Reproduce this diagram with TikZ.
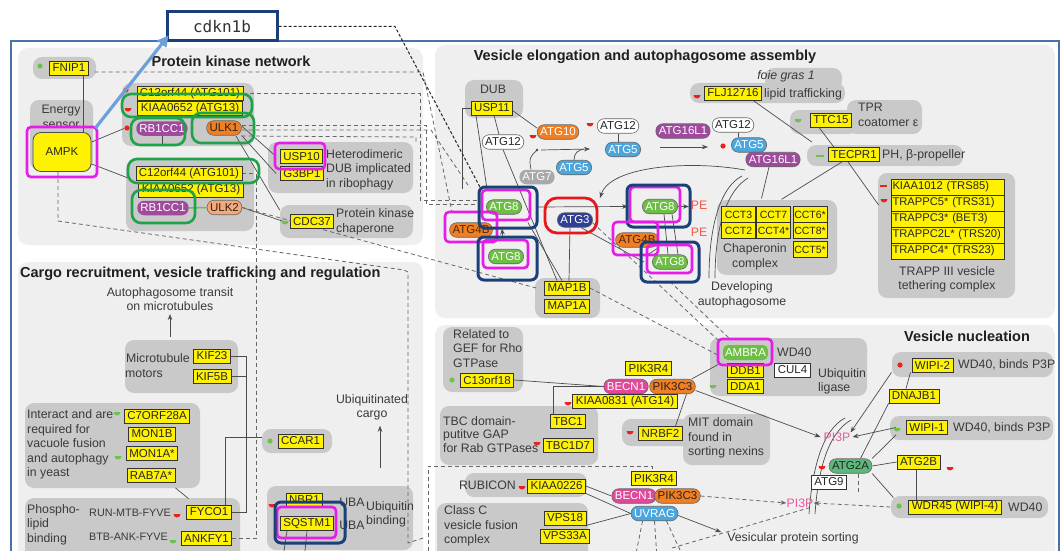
\documentclass[tikz,border=0pt]{standalone}
\usepackage{fontspec}
\setmainfont{Liberation Sans}
\newfontfamily\monof{DejaVu Sans Mono}
\usetikzlibrary{arrows.meta}
\pgfdeclarelayer{bgl}
\pgfdeclarelayer{lnl}
\pgfsetlayers{bgl,lnl,main}
\definecolor{ylw}{HTML}{FFF200}
\definecolor{blobg}{HTML}{C9C9C9}
\definecolor{panelg}{HTML}{EFEFF0}
\definecolor{frameb}{HTML}{4A72A8}
\definecolor{navy}{HTML}{1B3F78}
\definecolor{magh}{HTML}{E81CE8}
\definecolor{greenh}{HTML}{1FA34A}
\definecolor{redh}{HTML}{E8161B}
\definecolor{gr8}{HTML}{6DBE45}
\definecolor{orng}{HTML}{F07E22}
\definecolor{ltorng}{HTML}{F6A878}
\definecolor{purp}{HTML}{A04A9E}
\definecolor{bl5}{HTML}{4BA6DE}
\definecolor{atg3c}{HTML}{2F3F94}
\definecolor{pinkb}{HTML}{E0489A}
\definecolor{gray7}{HTML}{A9A9A9}
\definecolor{atg2}{HTML}{5DB87B}
\definecolor{pipink}{HTML}{E85A9B}
\definecolor{pered}{HTML}{F05A4A}
\definecolor{txt}{HTML}{3A3A3A}
\definecolor{arrowblue}{HTML}{6E9FDB}
\definecolor{markred}{HTML}{E8231C}
\definecolor{markgreen}{HTML}{6CC24A}
\definecolor{brn}{HTML}{4A2A10}
\newcommand\mkR[2]{\fill[markred] (#1,#2) circle (2.6);}
\newcommand\mkG[2]{\fill[markgreen] (#1,#2) circle (2.6);}
\newcommand\mkH[3]{\fill[#3] ({#1-3.5},#2) arc[start angle=180,end angle=0,radius=3.5] -- cycle;}
\tikzset{
 lab/.style={font=\fontsize{11.5}{12.5}\selectfont, text=black!85},
 yb/.style={lab, draw=black!80, fill=ylw, line width=0.8pt, inner xsep=3pt, inner ysep=0pt, minimum height=14pt},
 cct/.style={yb, font=\fontsize{10.5}{11}\selectfont, minimum width=34pt, minimum height=15.5pt, inner xsep=0.5pt},
 trp/.style={yb, font=\fontsize{11.2}{12}\selectfont, text width=110pt, align=left, inner xsep=1.5pt, minimum height=16pt},
 wb/.style={yb, fill=white},
 pill/.style={lab, draw=black!60, line width=0.6pt, rounded corners=7pt, inner xsep=3pt, inner ysep=0pt, minimum height=14.5pt},
 ampkb/.style={lab, draw=black!70, fill=ylw, line width=0.8pt, rounded corners=8pt, minimum width=58pt, minimum height=39pt},
 blob/.style={fill=blobg, rounded corners=9pt},
 body/.style={font=\fontsize{12.3}{14.6}\selectfont, text=txt, inner sep=0pt},
 nbody/.style={body, font=\fontsize{10.8}{12}\selectfont},
 ttl/.style={font=\bfseries\fontsize{14.5}{16}\selectfont, text=black!88, inner sep=0pt},
 pitxt/.style={body, text=pipink},
 petxt/.style={body, text=pered},
 hlm/.style={draw=magh, line width=2.6pt, rounded corners=4pt},
 hln/.style={draw=navy, line width=3pt, rounded corners=6pt},
 hlg/.style={draw=greenh, line width=2.6pt, rounded corners=9pt},
 hlr/.style={draw=redh, line width=2.8pt, rounded corners=12pt},
 ln/.style={draw=black!70, line width=0.7pt},
 dl/.style={draw=black!60, line width=0.8pt, dash pattern=on 4pt off 3pt},
 arr/.style={ln, -{Stealth[length=6pt,width=4.5pt]}},
 darr/.style={dl, -{Stealth[length=6pt,width=4.5pt]}},
}
\begin{document}
\begin{tikzpicture}[x=1pt,y=-1pt]
\useasboundingbox (0,0) rectangle (1063,551);
\begin{pgfonlayer}{bgl}
\fill[white] (0,0) rectangle (1063,551);
\fill[panelg, rounded corners=10pt] (18,48) rectangle (423,245);
\fill[panelg, rounded corners=10pt] (435,45) rectangle (1055,318);
\fill[panelg, rounded corners=10pt] (18,262) rectangle (423,575);
\fill[panelg, rounded corners=10pt] (435,325) rectangle (1055,575);
\draw[frameb, line width=1.3pt] (11,41) rectangle (1059,575);
% blobs protein kinase
\fill[blob] (33,57) rectangle (96,79);
\fill[blob] (30,100) rectangle (93,170);
\fill[blob] (122,83) rectangle (254,146);
\fill[blob] (126,160) rectangle (254,231);
\fill[blob] (268,142) rectangle (413,193);
\fill[blob] (280,205) rectangle (413,238);
% blobs elongation
\fill[blob] (465,80) rectangle (523,118);
\fill[blob] (765,68) rectangle (842,90);
\fill[blob] (690,83) rectangle (845,103);
\fill[blob] (790,110) rectangle (858,134);
\fill[blob] (847,100) rectangle (922,134);
\fill[blob] (807,145) rectangle (963,166);
\fill[blob] (535,278) rectangle (600,318);
\fill[blob] (717,200) rectangle (837,275);
\fill[blob] (878,173) rectangle (1015,298);
% blobs cargo
\fill[blob] (125,340) rectangle (238,393);
\fill[blob] (25,403) rectangle (200,488);
\fill[blob] (25,498) rectangle (240,570);
\fill[blob] (262,429) rectangle (332,453);
\fill[blob] (267,486) rectangle (413,550);
% blobs nucleation
\fill[blob] (443,327) rectangle (523,392);
\fill[blob] (440,406) rectangle (598,465);
\fill[blob] (622,419) rectangle (700,446);
\fill[blob] (683,414) rectangle (770,465);
\fill[blob] (710,338) rectangle (867,396);
\fill[blob] (892,352) rectangle (1053,377);
\fill[blob] (890,416) rectangle (1053,440);
\fill[blob] (891,496) rectangle (1048,518);
\fill[blob] (465,473) rectangle (587,497);
\fill[blob] (437,503) rectangle (588,565);
\end{pgfonlayer}

% ---------- Protein kinase network ----------
\node[ttl] (tpk) at (231,61) {Protein kinase network};
\node[body] (energy) at (61,111) {Energy};
\node[body] (sensor) at (61,125) {sensor};
\node[yb] (fnip1) at (69,68) {FNIP1};
\node[ampkb] (ampk) at (62,152) {AMPK};
\node[yb, minimum width=105pt] (c12a) at (190,93.5) {C12orf44 (ATG101)};
\node[yb, minimum width=105pt] (kiaaa) at (190,108.5) {KIAA0652 (ATG13)};
\node[pill, fill=purp, text=white, draw=none] (rb1cc) at (162,128.5) {RB1CC1};
\node[pill, fill=orng] (ulk1) at (224,128) {ULK1};
\node[yb] (c12b) at (189,173.5) {C12orf44 (ATG101)};
\node[yb] (kiaab) at (191,190) {KIAA0652 (ATG13)};
\node[pill, fill=purp, text=white, draw=none] (rb1cc1) at (163,208) {RB1CC1};
\node[pill, fill=ltorng] (ulk2) at (224.5,207.5) {ULK2};
\node[yb] (usp10) at (301.5,156.5) {USP10};
\node[yb] (g3bp1) at (302,173.5) {G3BP1};
\node[body, anchor=west, align=left] (hetero) at (326,169.5) {Heterodimeric\\DUB implicated\\in ribophagy};
\node[yb] (cdc37) at (312,221.5) {CDC37};
\node[body, anchor=west, align=left] (pkc) at (336,222) {Protein kinase\\chaperone};
\mkG{40}{66}
\mkR{126}{90}
\mkH{128}{108}{markred}
\mkR{127}{128}
\mkH{285}{221}{markgreen}

% ---------- Vesicle elongation ----------
\node[ttl] (tel) at (645,57) {Vesicle elongation and autophagosome assembly};
\node[body] (dub) at (493,89) {DUB};
\node[yb] (usp11) at (492,108) {USP11};
\node[pill, fill=white] (atg12a) at (503,142) {ATG12};
\node[pill, fill=orng, text=white] (atg10) at (558,132) {ATG10};
\node[pill, fill=white] (atg12b) at (618,126) {ATG12};
\node[pill, fill=bl5, text=white] (atg5a) at (623,149.5) {ATG5};
\node[pill, fill=bl5, text=white] (atg5b) at (574,167.5) {ATG5};
\node[pill, fill=gray7, text=white, draw=none] (atg7) at (537,177) {ATG7};
\node[pill, fill=purp, text=white] (atg16a) at (683,131) {ATG16L1};
\node[pill, fill=white] (atg12c) at (733,125) {ATG12};
\node[pill, fill=bl5, text=white] (atg5c) at (749,145) {ATG5};
\node[pill, fill=purp, text=white] (atg16b) at (773,159.5) {ATG16L1};
\mkH{533}{135}{markred}
\mkH{590}{123}{markred}
\mkR{723}{146}
\node[body, font=\fontsize{12.3}{14.6}\selectfont\itshape] (foie) at (786,76) {foie gras 1};
\node[yb] (flj) at (733,93) {FLJ12716};
\node[body, anchor=west] (lipid) at (764,94) {lipid trafficking};
\mkH{697}{95}{markred}
\node[yb] (ttc15) at (831,120) {TTC15};
\node[body, anchor=west, align=left] (tpr) at (858,115) {TPR\\coatomer ε};
\mkH{798}{119}{markgreen}
\node[yb] (tecpr1) at (854,154.5) {TECPR1};
\node[body, anchor=west] (ph) at (882,155) {PH, β-propeller};
\draw[markgreen, line width=2pt] (816,156) -- (824,156);

\node[pill, fill=orng, text=brn] (atg4bl) at (471,230) {ATG4B};
\node[pill, fill=gr8, text=white] (atg8a) at (504,207) {ATG8};
\node[pill, fill=gr8, text=white] (atg8b) at (506,256.5) {ATG8};
\node[pill, fill=atg3c, text=white] (atg3) at (575,220) {ATG3};
\node[pill, fill=gr8, text=white] (atg8c) at (660,206.5) {ATG8};
\node[pill, fill=orng, text=brn] (atg4br) at (637,240) {ATG4B};
\node[pill, fill=gr8, text=white] (atg8d) at (670,262) {ATG8};
\node[petxt] (pe1) at (699,205) {PE};
\node[petxt] (pe2) at (699,232) {PE};
\node[body, align=center] (devel) at (742,295) {Developing\\autophagosome};
\node[yb] (map1b) at (567,288) {MAP1B};
\node[yb] (map1a) at (567,306) {MAP1A};

\node[cct] (cct3) at (738.5,214.5) {CCT3};
\node[cct] (cct7) at (773.5,214.5) {CCT7};
\node[cct] (cct6) at (810,214.5) {CCT6*};
\node[cct] (cct2) at (738.5,230.5) {CCT2};
\node[cct] (cct4) at (773.5,230.5) {CCT4*};
\node[cct] (cct8) at (810,230.5) {CCT8*};
\node[cct] (cct5) at (810,249.5) {CCT5*};
\node[body, align=center] (chap) at (755,257) {Chaperonin\\complex};

\node[trp] (trs85) at (947.5,187) {KIAA1012 (TRS85)};
\node[trp] (trs31) at (947.5,203) {TRAPPC5* (TRS31)};
\node[trp] (bet3) at (947.5,219) {TRAPPC3* (BET3)};
\node[trp] (trs20) at (947.5,235) {TRAPPC2L* (TRS20)};
\node[trp] (trs23) at (947.5,251) {TRAPPC4* (TRS23)};
\node[body, align=center] (trapp) at (947,279.5) {TRAPP III vesicle\\tethering complex};
\draw[markred, line width=2pt] (880,186) -- (887,186);
\mkH{884}{199}{markred}

% ---------- Cargo ----------
\node[ttl, anchor=west] (tcg) at (20,274) {Cargo recruitment, vesicle trafficking and regulation};
\node[body, align=center] (transit) at (170,299) {Autophagosome transit\\on microtubules};
\coordinate (tra) at (170,337);
\node[body, anchor=east] (mtub) at (190,358) {Microtubule};
\node[body, anchor=west] (motors) at (125,374) {motors};
\node[yb] (kif23) at (212,356) {KIF23};
\node[yb] (kif5b) at (212,376.5) {KIF5B};
\node[body, anchor=west, align=left] (interact) at (27,444.5) {Interact and are\\required for\\vacuole fusion\\and autophagy\\in yeast};
\node[yb] (c7orf) at (157,416) {C7ORF28A};
\node[yb] (mon1b) at (152,434) {MON1B};
\node[yb] (mon1a) at (152,453.5) {MON1A*};
\node[yb] (rab7a) at (151,475.5) {RAB7A*};
\mkH{117}{412}{markgreen}
\mkH{118}{456}{markgreen}
\node[body, anchor=west, align=left] (phospho) at (27,524.5) {Phospho-\\lipid\\binding};
\node[nbody, anchor=east] (runm) at (171,513) {RUN-MTB-FYVE};
\node[yb] (fyco1) at (209,512) {FYCO1};
\node[nbody, anchor=east] (btb) at (168,537) {BTB-ANK-FYVE};
\node[yb] (ankfy1) at (206.5,538.5) {ANKFY1};
\mkH{177}{514}{markred}
\mkH{173}{540}{markgreen}
\node[yb] (ccar1) at (300.5,441) {CCAR1};
\mkG{270}{441}
\node[body, align=center] (ubc) at (372,407.5) {Ubiquitinated\\cargo};
\coordinate (ubs) at (380,468);
\node[yb] (nbr1) at (304.5,500) {NBR1};
\node[yb] (sqstm1) at (307,523.5) {SQSTM1};
\node[body] (uba1) at (352,502) {UBA};
\node[body] (uba2) at (352,525) {UBA};
\node[body, anchor=west] (ubq1) at (366,507) {Ubiquitin};
\node[body, anchor=west] (ubq2) at (366,521) {binding};
\mkH{272}{504}{markred}

% ---------- Vesicle nucleation ----------
\node[ttl] (tvn) at (967,336) {Vesicle nucleation};
\node[body, anchor=west, align=left] (relt) at (453,348.5) {Related to\\GEF for Rho\\GTPase};
\node[yb] (c13) at (487,380) {C13orf18};
\mkG{452}{380}
\node[yb] (pik3r4a) at (648.5,368.5) {PIK3R4};
\node[pill, fill=pinkb, text=white] (becn1a) at (626,386.5) {BECN1};
\node[pill, fill=orng] (pik3c3a) at (672.5,386.5) {PIK3C3};
\node[yb] (kiaa0831) at (625,401.5) {KIAA0831 (ATG14)};
\mkH{568}{402}{markred}
\node[body, anchor=west, align=left, font=\fontsize{12.3}{13.8}\selectfont] (tbct) at (443,434.5) {TBC domain-\\putitve GAP\\for Rab GTPases};
\node[yb] (tbc1) at (568,421.5) {TBC1};
\node[yb] (tbc1d7) at (568,445.5) {TBC1D7};
\mkH{537}{442}{markred}
\node[yb] (nrbf2) at (660.5,433.5) {NRBF2};
\mkH{630}{431}{markred}
\node[body, anchor=west, align=left] (mit) at (688,438) {MIT domain\\found in\\sorting nexins};
\node[yb] (ddb1) at (745.5,370.5) {DDB1};
\node[wb] (cul4) at (792.5,370) {CUL4};
\node[yb] (dda1) at (745.5,386.5) {DDA1};
\mkH{713}{385}{markgreen}
\node[lab, fill=gr8, text=white, rounded corners=5pt, minimum width=45pt, minimum height=15pt, inner sep=0pt] (ambra) at (745.5,352.5) {AMBRA};
\node[body, anchor=west] (wd40a) at (777,352) {WD40};
\node[body, anchor=west, align=left] (ubl) at (818,381.5) {Ubiquitin\\ligase};
\node[yb] (wipi2) at (932.5,365) {WIPI-2};
\mkR{900}{365}
\node[body, anchor=west] (wd40b) at (958,365) {WD40, binds P3P};
\node[yb] (dnajb1) at (914,396) {DNAJB1};
\node[yb] (wipi1) at (927,427.5) {WIPI-1};
\mkH{897}{428}{markgreen}
\node[body, anchor=west] (wd40c) at (953,428) {WD40, binds P3P};
\node[pitxt] (pi3pa) at (837,437) {PI3P};
\node[pitxt] (pi3pb) at (800,503) {PI3P};
\node[pill, fill=atg2] (atg2a) at (850.5,466) {ATG2A};
\mkH{822}{466}{markred}
\node[yb] (atg2b) at (918.5,462) {ATG2B};
\mkH{950}{467}{markred}
\node[wb] (atg9) at (829,482) {ATG9};
\node[yb] (wdr45) at (955,507) {WDR45 (WIPI-4)};
\mkG{899}{506}
\node[body, anchor=west] (wd40d) at (1008,507) {WD40};
\node[body, anchor=east] (rubicon) at (516,485) {RUBICON};
\mkH{522}{486}{markred}
\node[yb] (kiaa0226) at (556.5,486) {KIAA0226};
\node[body, anchor=west, align=left] (classc) at (444,526) {Class C\\vesicle fusion\\complex};
\node[yb] (vps18) at (565,518) {VPS18};
\node[yb] (vps33a) at (565,536) {VPS33A};
\node[yb] (pik3r4b) at (654,478.5) {PIK3R4};
\node[pill, fill=pinkb, text=white] (becn1b) at (634,496) {BECN1};
\node[pill, fill=orng] (pik3c3b) at (677.5,496) {PIK3C3};
\node[pill, fill=bl5, text=white] (uvrag) at (654.5,513.5) {UVRAG};
\node[body] (vpstext) at (793,538) {Vesicular protein sorting};

% ---------- connectors ----------
\begin{pgfonlayer}{lnl}
\coordinate (f1) at ([xshift=14pt]fnip1.south);
\draw[ln] (f1) -- (f1 |- ampk.north);
\draw[ln] ([yshift=-10pt]ampk.north east) -- ([xshift=-12pt]rb1cc.west);
\draw[ln] ([yshift=8pt]ampk.south east) -- ([xshift=-5pt,yshift=2pt]c12b.south west);
\draw[ln] (rb1cc.south) -- ++(0,8);
\draw[ln] ([yshift=2pt]ulk1.east) -- ([xshift=-6pt,yshift=2pt]usp10.west);
\draw[ln] (ulk1.south east) -- ([xshift=-4pt]g3bp1.west);
\draw[ln] ([xshift=-6pt]ulk1.south east) -- ([xshift=-10pt,yshift=4pt]cdc37.north west);
\draw[ln] (ulk2.east) -- ([xshift=-6pt]cdc37.west);
\draw[markgreen, line width=1.5pt] (rb1cc1.east) -- (ulk2.west);
% dashed PK -> elongation
\draw[dl] ([xshift=6pt,yshift=-4pt]fnip1.east) -- (423,72) -- (452,212);
\draw[dl] (c12a.east) -- (420,93.5) -- (420,200) -- (479,200);
\draw[dl] ([yshift=3pt]ulk1.east) -- (426,125) -- (426,204) -- (479,204);
\draw[dl] ([yshift=-2pt]ulk1.east) -- (431,130) -- (470,188);
\draw[dl] ([yshift=-8pt]ulk1.east) -- (416,137) -- (416,143);
\draw[dl] (c12b.east) -| ([xshift=24pt]ankfy1.east) -- (ankfy1.east);
\draw[dl] ([xshift=-4pt]ampk.south) -- (58,221) -- (404,270) -- (408,272) -- (408,543) -- (426,537);
\draw[dl] (ulk2.east) -- ([xshift=-8pt]map1b.west);
% elongation
\draw[ln] (usp11.west) -| (462,189);
\draw[ln] ([xshift=-16pt]usp11.south) -- (487,189);
\draw[ln] ([xshift=2pt]usp11.south) -- ([xshift=-4pt]atg12a.north);
\draw[ln] ([yshift=-3pt]usp11.east) -- ([yshift=4pt]atg10.west);
\draw[ln] (atg12a.south) -- ([xshift=-10pt]map1b.north);
\draw[ln] ([xshift=6pt,yshift=-8pt]atg8a.south east) -- ([xshift=-5pt]map1b.north);
\draw[ln] ([xshift=-5pt]atg3.south) -- ([xshift=2pt]map1b.north);
\draw[ln] ([xshift=6pt]atg3.south) -- ([xshift=-8pt]atg8d.west);
\draw[ln] ([xshift=4pt]atg8c.south) -- ([xshift=-2pt]atg8d.north);
\draw[ln] ([xshift=12pt]atg8c.south) -- ([xshift=8pt]atg8d.north);
\draw[ln] (atg4br.south east) -- ([xshift=-4pt]atg8d.north west);
\draw[arr] ([xshift=-3pt,yshift=9pt]atg8b.north) -- ([xshift=-2pt,yshift=-14pt]atg8a.south);
\draw[arr] ([xshift=14pt]atg8a.east) -- ([xshift=-14pt]atg8c.west);
\draw[arr] (atg8c.east) -- ++(11,0);
\coordinate (dot7) at (537,150);
\fill[black!70] (dot7) circle (1.4);
\draw[ln] ([xshift=-6pt]atg7.north) .. controls (529,158) .. (dot7);
\coordinate (a5tip) at (590,149);
\draw[arr] ([xshift=4pt]dot7) -- (a5tip);
\draw[ln] (atg5b.north) .. controls (574,153) and (578,150) .. (584,149);
\draw[ln] (atg12b.south) -- (atg12b.south |- atg5a.north);
\coordinate (a16s) at (660,147);
\coordinate (a16e) at (708,147);
\draw[arr] (a16s) -- (a16e);
\coordinate (a12c) at ([xshift=5pt]atg12c.south);
\draw[ln] (a12c) -- (a12c |- atg5c.north);
\coordinate (cvs) at (745,170);
\coordinate (cve) at (600,198);
\draw[arr] (cvs) .. controls (690,160) and (610,166) .. (cve);
\draw[ln] (742,176) .. controls (722,186) and (709,222) .. (709,278);
\draw[ln] (748,178) .. controls (728,190) and (715,224) .. (715,278);
\draw[ln] ([xshift=-4pt]atg16b.south) -- ([xshift=-12pt,yshift=8pt]cct7.north);
\draw[ln] ([xshift=-12pt]tecpr1.south) -- ([xshift=8pt,yshift=7pt]cct7.north);
\draw[ln] ([xshift=-6pt]tecpr1.south) -- ([xshift=-12pt,yshift=-18pt]trs85.west);
\draw[ln] ([xshift=20pt]flj.south) -- ([xshift=-16pt,yshift=5pt]tecpr1.north west);
\draw[ln] ([xshift=-12pt]ttc15.south) -- ([xshift=6pt]tecpr1.north west);
% dashed to AMBRA
\draw[dl] ([yshift=-3pt]atg3.east) -- ([xshift=-4pt,yshift=4pt]ambra.north west);
\draw[dl] (map1b.east) -- ([xshift=-6pt,yshift=-2pt]ambra.west);
\draw[dl] ([yshift=-12pt]atg8d.south) -- ([xshift=8pt,yshift=5pt]ambra.north west);
% cargo
\draw[arr] (tra) -- ([yshift=-3pt]transit.south);
\draw[ln] (kif23.east) -- ++(16,0) |- (fyco1.east);
\draw[ln] (kif5b.east) -- ++(16,0);
\draw[ln] ([yshift=-5pt]rab7a.south east) -- ([xshift=2pt,yshift=6pt]fyco1.north west);
\coordinate (fy) at ([xshift=16pt]fyco1.north);
\draw[ln] (fy) |- ([xshift=-16pt,yshift=4pt]ccar1.west);
\draw[arr] (ubs) -- ([xshift=8pt,yshift=-5pt]ubc.south);
\draw[ln] ([xshift=-20pt]sqstm1.south) -- ++(-3,20);
\draw[ln] (sqstm1.south) -- ++(-2,20);
% nucleation
\draw[ln] (c13.east) -- (becn1a.west);
\coordinate (tb) at ([xshift=-15pt]tbc1.north);
\draw[ln] (tb) |- (becn1a.west);
\draw[ln] ([xshift=15pt]nrbf2.north) -- ([xshift=14pt]pik3c3a.south);
\draw[ln] ([xshift=-4pt]pik3c3a.north east) -- ([xshift=-4pt,yshift=-4pt]ambra.south west);
\draw[arr] ([yshift=-4pt]pik3c3a.east) -- ([xshift=-3pt]pi3pa.west);
\draw[arr] ([xshift=-20pt]wipi2.south west) -- (pi3pa.north east);
\draw[arr] ([xshift=-10pt]wipi1.west) -- ([xshift=2pt]pi3pa.east);
\draw[ln] ([xshift=-22pt]wipi2.south) -- ([xshift=-8pt]dnajb1.north);
\draw[ln] (dnajb1.south west) -- ([xshift=10pt]atg2a.north);
\draw[ln] ([xshift=-10pt]wipi1.south west) -- (atg2a.north east);
\draw[ln] (atg2a.east) -- (atg2b.west);
\draw[ln] ([xshift=-2pt]atg2b.south) -- ([xshift=-2pt]atg2b.south |- wdr45.north);
\draw[ln] (atg2a.south east) -- ([xshift=-15pt,yshift=2pt]wdr45.north west);
\draw[dl] ([xshift=8pt]atg2a.south) -- ++(0,21);
\draw[ln] (845,418) .. controls (822,430) and (812,470) .. (809,514);
\draw[ln] (851,420) .. controls (828,433) and (818,470) .. (815,514);
\draw[darr] ([xshift=-18pt]wdr45.west) -- (pi3pb.east);
\draw[darr] (pik3c3b.east) -- (pi3pb.west);
\coordinate (vps) at (672,548);
\draw[dl] (vps) -- ([xshift=10pt]pi3pb.south);
\draw[arr] ([yshift=-2pt]uvrag.east) -- ([xshift=-6pt]vpstext.north west);
\draw[dl] ([xshift=-12pt]uvrag.south) -- ++(-6,30);
\draw[dl] (uvrag.south) -- ++(2,30);
\draw[dl] ([xshift=12pt]uvrag.south) -- ++(14,30);
\draw[dl] (428,565) -- (428,466) -- (652,466) -- ([xshift=-2pt]pik3r4b.north);
\draw[ln] (kiaa0226.east) -- (becn1b.west);
\draw[ln] (kiaa0226.south east) -- (uvrag.west);
\draw[ln] (vps18.south east) -- (uvrag.west);
\end{pgfonlayer}

% ---------- highlights ----------
\draw[hlm] (27,127) rectangle (97,177);
\draw[hlg] (122,94) rectangle (252,117);
\draw[hlg] (131,118) rectangle (185,145);
\draw[hlg] (192,113) rectangle (254,143);
\draw[hlg] (128,159) rectangle (259,183);
\draw[hlg] (132,190) rectangle (195,223);
\draw[hlm] (275,143) rectangle (325,169);
\draw[hlm] (445,212) rectangle (497,242);
\draw[hlm] (482,190) rectangle (530,220);
\draw[hln] (479,187) rectangle (537,228);
\draw[hlm] (483,240) rectangle (528,268);
\draw[hln] (478,237) rectangle (537,280);
\draw[hlr] (545,198) rectangle (597,233);
\draw[hlm] (630,187) rectangle (680,222);
\draw[hln] (627,185) rectangle (690,227);
\draw[hlm] (613,222) rectangle (658,255);
\draw[hlm] (647,245) rectangle (692,273);
\draw[hln] (641,242) rectangle (699,282);
\draw[hlm] (277,507) rectangle (336,538);
\draw[hln] (275,502) rectangle (345,543);
\draw[hlm] (718,339) rectangle (772,365);

% ---------- cdkn1b ----------
\node[draw=navy, line width=3pt, fill=white, minimum width=110pt, minimum height=29pt, font=\monof\fontsize{16}{18}\selectfont, text=black!80, inner sep=0pt] (cdkn1b) at (222,26.5) {cdkn1b};
\coordinate (nva) at (481,189);
\draw[black!85, line width=1pt, dash pattern=on 3pt off 2pt] (cdkn1b.east) -- (395,26.5) -- (nva);
\draw[arrowblue, line width=3.2pt, -{Triangle[length=11pt,width=11pt]}] ([xshift=4pt,yshift=4pt]ampk.north east) -- ([xshift=3pt,yshift=7pt]cdkn1b.south west);
\end{tikzpicture}
\end{document}
